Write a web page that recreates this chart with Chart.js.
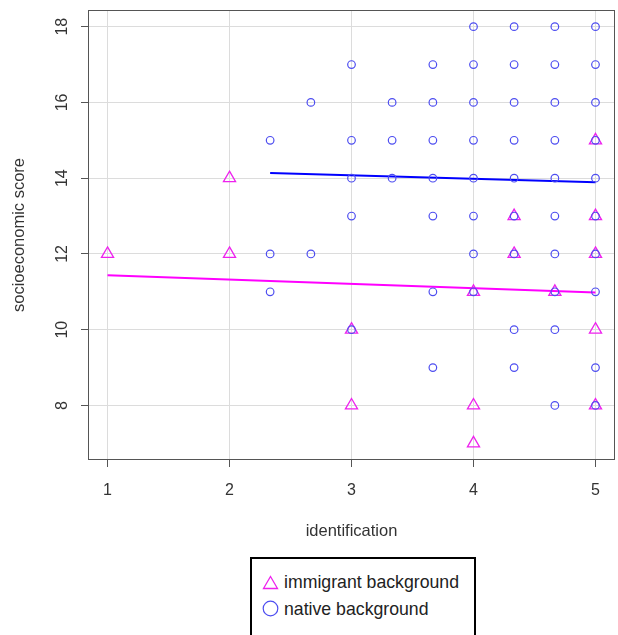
<!DOCTYPE html>
<html>
<head>
<meta charset="utf-8">
<title>identification vs socioeconomic score</title>
<script src="https://cdn.jsdelivr.net/npm/chart.js@4.4.1/dist/chart.umd.min.js"></script>
<style>
  html, body { margin: 0; padding: 0; background: #fff; overflow: hidden; font-family: "Liberation Sans", Arial, sans-serif; }
  #wrap { position: relative; width: 618px; height: 635px; overflow: hidden; }
  #scatter-chart { display: block; }
  #legendBox {
    position: absolute; left: 250px; top: 557px; width: 222px; height: 90px;
    border: 2px solid #000; background: #fff; color: #222; font-size: 17.7px;
  }
  #legendBox div { position: absolute; left: 10px; white-space: nowrap; }
  #legendBox svg { vertical-align: -2px; margin-right: 5px; }
</style>
</head>
<body>
<div id="wrap">
  <canvas id="scatter-chart" width="618" height="635"></canvas>
  <div id="legendBox">
    <div style="top: 13px;"><svg width="17" height="15"><polygon points="8.5,1.5 15.5,13.5 1.5,13.5" fill="none" stroke="#ee22ee" stroke-width="1.3"/></svg>immigrant background</div>
    <div style="top: 40px;"><svg width="17" height="17"><circle cx="8.5" cy="8.5" r="7.3" fill="none" stroke="#4d4df0" stroke-width="1.2"/></svg>native background</div>
  </div>
</div>
<script>
// identification levels and the scores observed at each level
var nativeLevels = [2.333, 2.667, 3, 3.333, 3.667, 4, 4.333, 4.667, 5];
var nativeScores = [
    [15, 12, 11],
    [16, 12],
    [17, 15, 14, 13, 10],
    [16, 15, 14],
    [17, 16, 15, 14, 13, 11, 9],
    [18, 17, 16, 15, 14, 13, 12, 11],
    [18, 17, 16, 15, 14, 13, 12, 10, 9],
    [18, 17, 16, 15, 14, 13, 12, 11, 10, 8],
    [18, 17, 16, 15, 14, 13, 12, 11, 9, 8]
];
var immigrantLevels = [1, 2, 3, 4, 4.333, 4.667, 5];
var immigrantScores = [
    [12],
    [14, 12],
    [10, 8],
    [11, 8, 7],
    [13, 12],
    [11],
    [15, 13, 12, 10, 8]
];

// fitted regression lines (end points)
var nativeFitX = [2.333, 5];
var nativeFitY = [14.14, 13.89];
var immigrantFitX = [1, 5];
var immigrantFitY = [11.44, 10.98];

var xTicks = [1, 2, 3, 4, 5];
var yTicks = [8, 10, 12, 14, 16, 18];

function toPoints(levels, scores) {
    var pts = [];
    levels.forEach(function (lv, i) {
        scores[i].forEach(function (s) { pts.push({ x: lv, y: s }); });
    });
    return pts;
}
function toLine(xs, ys) {
    return xs.map(function (x, i) { return { x: x, y: ys[i] }; });
}

// box around the plotting region
var frame = {
    id: 'frame',
    beforeDatasetsDraw: function (chart) {
        var a = chart.chartArea, c = chart.ctx;
        c.save();
        c.strokeStyle = '#555';
        c.lineWidth = 1;
        c.strokeRect(Math.round(a.left) + 0.5, Math.round(a.top) + 0.5,
            Math.round(a.right - a.left) - 1, Math.round(a.bottom - a.top) - 1);
        c.restore();
    }
};

var ctx = document.getElementById('scatter-chart');

var chartData = {
    datasets: [{
        label: 'native background',
        type: 'scatter',
        data: toPoints(nativeLevels, nativeScores),
        pointStyle: 'circle',
        pointRadius: 3.8,
        borderColor: '#4d4df0',
        backgroundColor: 'transparent',
        borderWidth: 1.2
    }, {
        label: 'immigrant background',
        type: 'scatter',
        data: toPoints(immigrantLevels, immigrantScores),
        pointStyle: 'triangle',
        pointRadius: 7,
        borderColor: '#ee22ee',
        backgroundColor: 'transparent',
        borderWidth: 1.3
    }, {
        label: 'native fit',
        type: 'line',
        data: toLine(nativeFitX, nativeFitY),
        borderColor: '#0000ff',
        borderWidth: 2,
        pointRadius: 0,
        fill: false
    }, {
        label: 'immigrant fit',
        type: 'line',
        data: toLine(immigrantFitX, immigrantFitY),
        borderColor: '#ff00ff',
        borderWidth: 2,
        pointRadius: 0,
        fill: false
    }]
};

var chartOptions = {
    responsive: false,
    animation: false,
    layout: { autoPadding: false, padding: { top: 10, right: 3, left: 0, bottom: 0 } },
    plugins: {
        legend: { display: false },
        tooltip: { enabled: false }
    },
    scales: {
        x: {
            type: 'linear',
            min: 0.84,
            max: 5.16,
            afterBuildTicks: function (s) { s.ticks = xTicks.map(function (v) { return { value: v }; }); },
            afterFit: function (s) { s.height = 175; s.paddingLeft = 0; s.paddingRight = 0; },
            border: { display: false },
            grid: { color: '#dcdcdc', tickColor: '#555', tickLength: 7, lineWidth: 1 },
            ticks: { color: '#333', font: { size: 16, family: 'Liberation Sans' }, padding: 14, maxRotation: 0 },
            title: {
                display: true, text: 'identification', color: '#333',
                font: { size: 16.5, family: 'Liberation Sans' },
                padding: { top: 0, bottom: 94 }
            }
        },
        y: {
            type: 'linear',
            min: 6.56,
            max: 18.44,
            afterBuildTicks: function (s) { s.ticks = yTicks.map(function (v) { return { value: v }; }); },
            afterFit: function (s) { s.width = 88; s.paddingTop = 0; s.paddingBottom = 0; },
            border: { display: false },
            grid: { color: '#dcdcdc', tickColor: '#555', tickLength: 7, lineWidth: 1 },
            ticks: { color: '#333', font: { size: 16, family: 'Liberation Sans' }, padding: 10,
                minRotation: 90, maxRotation: 90, crossAlign: 'center' },
            title: {
                display: true, text: 'socioeconomic score', color: '#333',
                font: { size: 16.5, family: 'Liberation Sans' },
                padding: { top: 10, bottom: 0 }
            }
        }
    }
};

var scatterChart = new Chart(ctx, {
    type: 'scatter',
    data: chartData,
    options: chartOptions,
    plugins: [frame]
});
</script>
</body>
</html>
